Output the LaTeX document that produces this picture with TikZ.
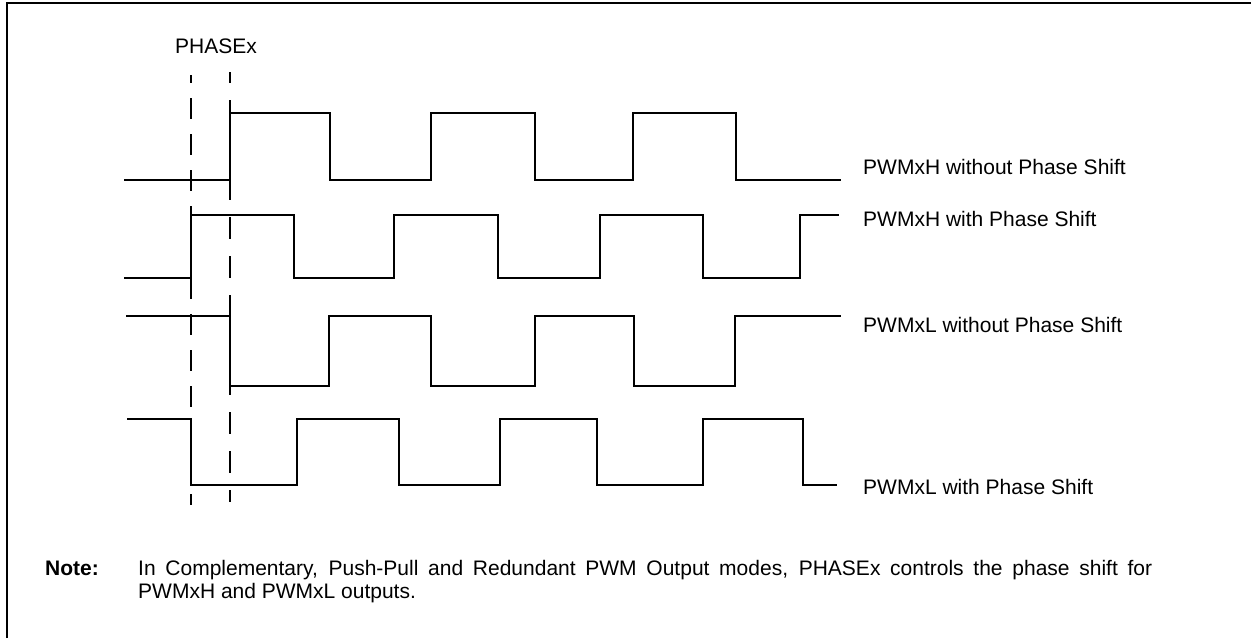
\documentclass[tikz,border=0pt]{standalone}
\usepackage{fontspec}
\setmainfont{Liberation Sans}
\begin{document}
\begin{tikzpicture}[x=1pt,y=-1pt,
  wave/.style={line width=2.2pt},
  frameline/.style={line width=2.4pt},
  phaseA/.style={line width=2pt, dash pattern=on 21pt off 15pt, dash phase=13pt},
  phaseB/.style={line width=2pt, dash pattern=on 22pt off 17pt, dash phase=11pt},
  lbl/.style={anchor=base west, inner sep=0pt, font=\fontsize{21}{24}\selectfont}]
\useasboundingbox (0,0) rectangle (1251,638);
% frame (top and left edges)
\coordinate (fb) at (7,638);
\coordinate (fc) at (7,3);
\coordinate (fr) at (1251,3);
\draw[frameline] (fb) -- (fc) -- (fr);
% PHASEx dashed markers
\coordinate (pa1) at (191,75);
\coordinate (pa2) at (191,505);
\coordinate (pb1) at (230,72);
\coordinate (pb2) at (230,502);
\draw[phaseA] (pa1) -- (pa2);
\draw[phaseB] (pb1) -- (pb2);
% PWMxH without phase shift
\draw[wave] (124,180) -- (230,180) -- (230,113) -- (330,113) -- (330,180) -- (431,180) -- (431,113) -- (535,113) -- (535,180) -- (633,180) -- (633,113) -- (736,113) -- (736,180) -- (841,180);
% PWMxH with phase shift
\draw[wave] (124,278) -- (191,278) -- (191,215) -- (294,215) -- (294,278) -- (394,278) -- (394,215) -- (498,215) -- (498,278) -- (600,278) -- (600,215) -- (703,215) -- (703,278) -- (800,278) -- (800,215) -- (839,215);
% PWMxL without phase shift
\draw[wave] (126,316) -- (230,316) -- (230,386) -- (329,386) -- (329,316) -- (431,316) -- (431,386) -- (535,386) -- (535,316) -- (634,316) -- (634,386) -- (735,386) -- (735,316) -- (841,316);
% PWMxL with phase shift
\draw[wave] (127,419) -- (191,419) -- (191,485) -- (297,485) -- (297,419) -- (399,419) -- (399,485) -- (500,485) -- (500,419) -- (597,419) -- (597,485) -- (703,485) -- (703,419) -- (803,419) -- (803,485) -- (837,485);
% labels
\node[lbl] (phase) at (175,53.3) {PHASEx};
\node[lbl] (l1) at (863,174) {PWMxH without Phase Shift};
\node[lbl] (l2) at (863,226) {PWMxH with Phase Shift};
\node[lbl] (l3) at (863,332.3) {PWMxL without Phase Shift};
\node[lbl] (l4) at (863,494) {PWMxL with Phase Shift};
% note
\node[lbl] (note) at (45,575) {\bfseries Note:};
\node[lbl] (n1) at (138,575) {\makebox[1014pt][s]{In Complementary, Push-Pull and Redundant PWM Output modes, PHASEx controls the phase shift for}};
\node[lbl] (n2) at (138,598.3) {PWMxH and PWMxL outputs.};
\end{tikzpicture}
\end{document}
